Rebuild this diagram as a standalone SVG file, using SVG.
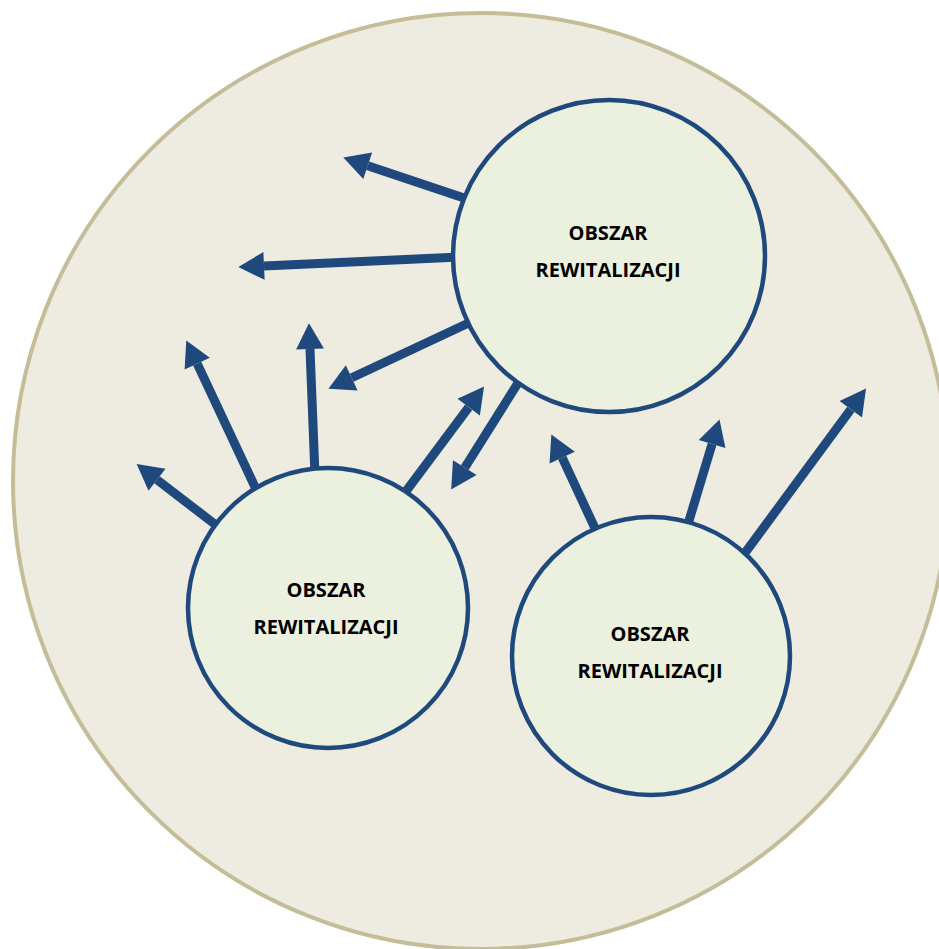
<svg xmlns="http://www.w3.org/2000/svg" width="939" height="949" viewBox="0 0 939 949">
<style>
.node{fill:#ebf1de;stroke:#1f497d;stroke-width:4.5}
.lbl{font-family:"Open Sans","Liberation Sans",sans-serif;font-weight:bold;font-size:20px;fill:#000;text-anchor:middle}
.arr{stroke:#1f497d;stroke-width:9;fill:none;marker-end:url(#ah)}
</style>
<defs>
<marker id="ah" markerUnits="userSpaceOnUse" markerWidth="30" markerHeight="30" viewBox="0 -14 26 28" refX="0" refY="0" orient="auto">
<path d="M0,-13 L24,0 L0,13 z" fill="#1f497d"/>
</marker>
</defs>
<rect width="939" height="949" fill="#fff"/>
<g id="area">
<circle cx="481" cy="481" r="468" fill="#eeece1" stroke="#c4bd97" stroke-width="4"/>
</g>
<g id="connectors">
<line class="arr" x1="470" y1="200" x2="367.7" y2="165.7"/>
<line class="arr" x1="460" y1="257" x2="264" y2="265.9"/>
<line class="arr" x1="475" y1="320" x2="351.7" y2="377.8"/>
<line class="arr" x1="523" y1="375" x2="464.8" y2="467.7"/>
<line class="arr" x1="225" y1="532" x2="157" y2="479.7"/>
<line class="arr" x1="262" y1="502" x2="197.2" y2="363.7"/>
<line class="arr" x1="315.4" y1="485" x2="310" y2="349"/>
<line class="arr" x1="398" y1="502" x2="468.7" y2="407.2"/>
<line class="arr" x1="600" y1="539" x2="562.2" y2="457.7"/>
<line class="arr" x1="685" y1="534" x2="712.1" y2="444"/>
<line class="arr" x1="739" y1="561" x2="850.8" y2="409.3"/>
</g>
<g id="node1">
<circle class="node" cx="609" cy="256" r="156"/>
<text class="lbl" x="608" y="240">OBSZAR</text>
<text class="lbl" x="608" y="277">REWITALIZACJI</text>
</g>
<g id="node2">
<circle class="node" cx="328" cy="608" r="140"/>
<text class="lbl" x="326" y="597">OBSZAR</text>
<text class="lbl" x="326" y="634">REWITALIZACJI</text>
</g>
<g id="node3">
<circle class="node" cx="651" cy="656" r="139"/>
<text class="lbl" x="650" y="641">OBSZAR</text>
<text class="lbl" x="650" y="678">REWITALIZACJI</text>
</g>
</svg>
